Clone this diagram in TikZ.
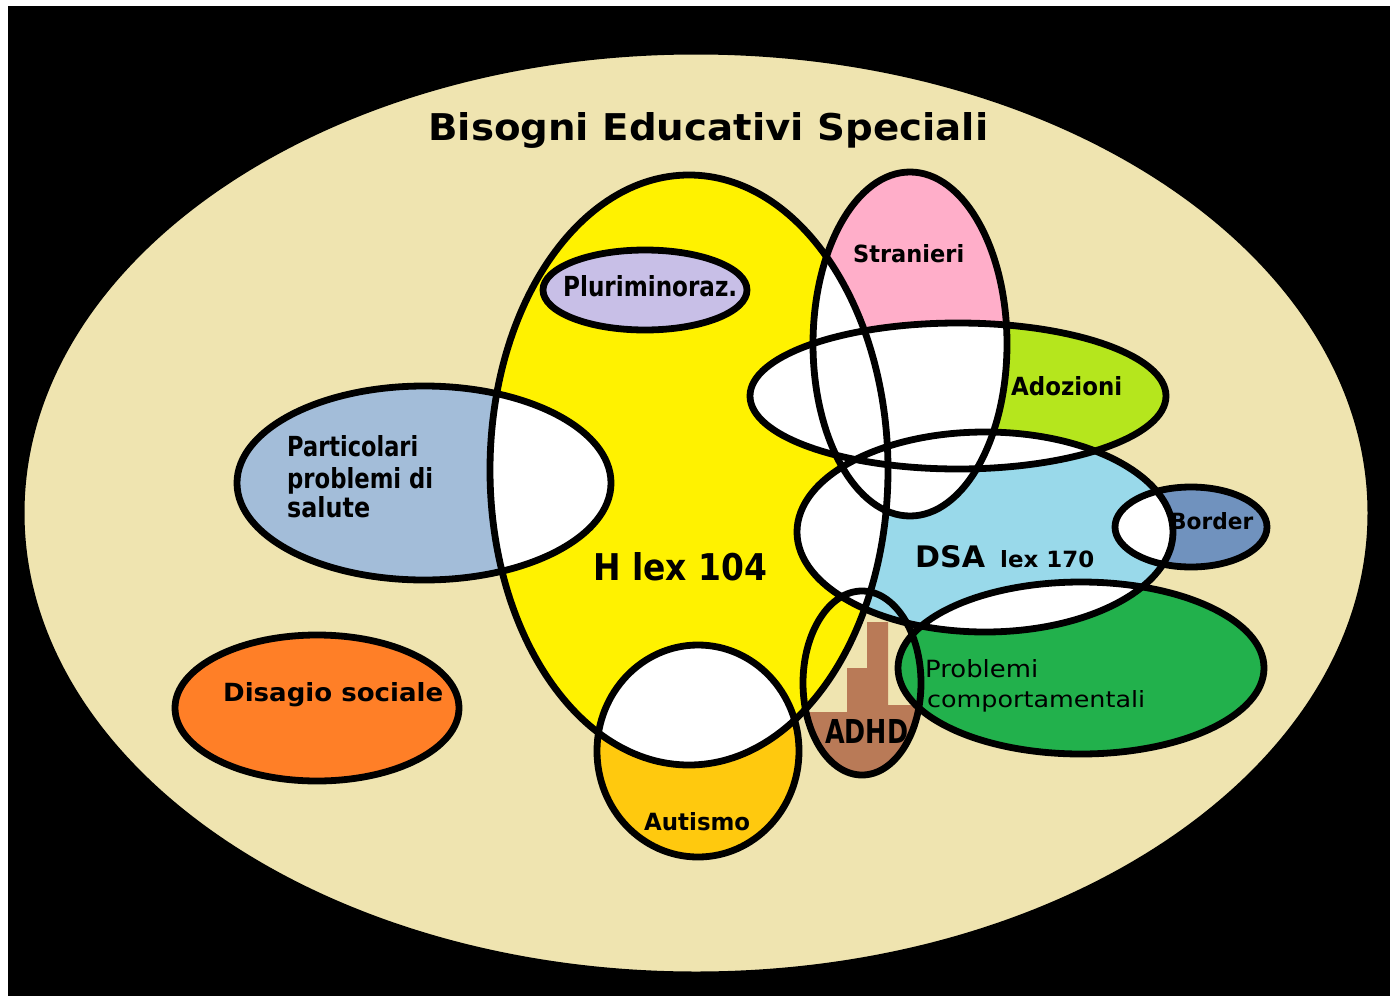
\documentclass[tikz,border=0pt]{standalone}
\usepackage{fontspec}
\usepackage{graphicx}
\newfontfamily\labfont{DejaVu Sans}
\definecolor{bgbeige}{HTML}{EFE4B0}
\definecolor{hyellow}{HTML}{FFF200}
\definecolor{lav}{HTML}{C8BFE7}
\definecolor{pinkc}{HTML}{FFAEC9}
\definecolor{limec}{HTML}{B5E61D}
\definecolor{turq}{HTML}{99D9EA}
\definecolor{bluegray}{HTML}{7092BE}
\definecolor{steel}{HTML}{A3BDD9}
\definecolor{orangec}{HTML}{FF7F27}
\definecolor{goldc}{HTML}{FFC90E}
\definecolor{brownc}{HTML}{B97A57}
\definecolor{greenc}{HTML}{22B14C}
\newcommand{\lbl}[3]{\resizebox{#1pt}{#2pt}{\labfont\bfseries #3}}
\newcommand{\lblr}[3]{\resizebox{#1pt}{#2pt}{\labfont #3}}
\def\Hp{(689,470) ellipse [x radius=199pt, y radius=295pt]}
\def\Plp{(645,290) ellipse [x radius=102pt, y radius=40pt]}
\def\Stp{(910,344) ellipse [x radius=97pt, y radius=172pt]}
\def\Adp{(958,396) ellipse [x radius=208pt, y radius=73pt]}
\def\Dsp{(985,532) ellipse [x radius=188pt, y radius=100pt]}
\def\Bop{(1191,527) ellipse [x radius=76pt, y radius=40pt]}
\def\Pap{(424,483) ellipse [x radius=187pt, y radius=97pt]}
\def\Dip{(317,708) ellipse [x radius=142pt, y radius=73pt]}
\def\Aup{(698,751) ellipse [x radius=101pt, y radius=106pt]}
\def\Ahp{(862,683) ellipse [x radius=59pt, y radius=92pt]}
\def\Prp{(1081,668) ellipse [x radius=183pt, y radius=86pt]}
\newcommand{\whiteover}[2]{\begin{scope}\clip #1; \fill[white] #2;\end{scope}}
\tikzset{outl/.style={draw=black,line width=6.8pt},
  lab/.style={inner sep=0pt,anchor=base west}}
\begin{document}
\begin{tikzpicture}[x=1pt,y=-1pt]
\useasboundingbox (0,0) rectangle (1390,996);
\fill[white] (0,0) rectangle (1390,996);
\fill[black] (8,6) rectangle (1390,996);
% big ellipse
\fill[bgbeige] (696,513) ellipse [x radius=674pt, y radius=461pt];
\draw[line width=5pt] (696,513) ellipse [x radius=674pt, y radius=461pt];
% ADHD (bottom layer)
\begin{scope}
\clip \Ahp;
\fill[brownc] (867,622) -- (888,622) -- (888,705) -- (925,705) -- (925,790)
  -- (795,790) -- (795,712) -- (847,712) -- (847,668) -- (867,668) -- cycle;
\end{scope}
% fills
\fill[hyellow] \Hp;
\fill[steel] \Pap;
\fill[pinkc] \Stp;
\fill[limec] \Adp;
\fill[turq] \Dsp;
\fill[bluegray] \Bop;
\fill[greenc] \Prp;
\fill[goldc] \Aup;
\fill[orangec] \Dip;
\fill[lav] \Plp;
% white overlaps
\whiteover{\Hp}{\Pap}
\whiteover{\Hp}{\Stp}
\whiteover{\Hp}{\Adp}
\whiteover{\Hp}{\Dsp}
\whiteover{\Hp}{\Aup}
\whiteover{\Stp}{\Adp}
\whiteover{\Stp}{\Dsp}
\whiteover{\Adp}{\Dsp}
\whiteover{\Dsp}{\Bop}
\whiteover{\Dsp}{\Prp}
% outlines
\draw[outl] \Hp;
\draw[outl] \Pap;
\draw[outl] \Stp;
\draw[outl] \Adp;
\draw[outl] \Dsp;
\draw[outl] \Bop;
\draw[outl] \Prp;
\draw[outl] \Aup;
\draw[outl] \Dip;
\draw[outl] \Plp;
\draw[outl] \Ahp;
% labels
\node[lab] (title) at (428,140) {\lbl{560}{28}{Bisogni Educativi Speciali}};
\node[lab] (pluri) at (563,296) {\lbl{174}{21}{Pluriminoraz.}};
\node[lab] (stran) at (853,262) {\lbl{111}{18}{Stranieri}};
\node[lab] (adoz) at (1011,395) {\lbl{111}{19}{Adozioni}};
\node[lab] (part1) at (287,456) {\lbl{131}{21}{Particolari}};
\node[lab] (part2) at (287,488) {\lbl{146}{21}{problemi di}};
\node[lab] (part3) at (287,517) {\lbl{83}{21}{salute}};
\node[lab] (hlex) at (593,580) {\lbl{174}{28}{H lex 104}};
\node[lab] (dsa) at (915,567) {\lbl{70}{22}{DSA}};
\node[lab] (dsalex) at (1000,567) {\lbl{94}{17}{lex 170}};
\node[lab] (border) at (1170,529) {\lbl{83}{17}{Border}};
\node[lab] (prob1) at (925,677) {\lblr{113}{18}{Problemi}};
\node[lab] (prob2) at (927,707) {\lblr{218}{17}{comportamentali}};
\node[lab] (adhd) at (825,743) {\lbl{83}{24}{ADHD}};
\node[lab] (autis) at (644,830) {\lbl{106}{18}{Autismo}};
\node[lab] (disag) at (223,701) {\lbl{220}{19}{Disagio sociale}};
\end{tikzpicture}
\end{document}
